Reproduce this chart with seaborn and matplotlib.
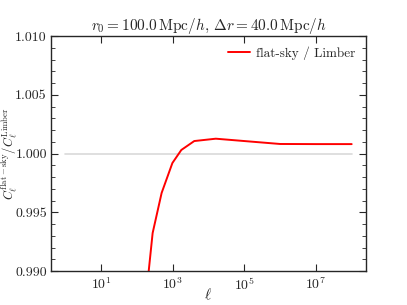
import matplotlib
matplotlib.use("Agg")
import matplotlib.pyplot as plt
import seaborn as sns
import numpy as np
import pandas as pd
from matplotlib.ticker import FixedLocator, MultipleLocator, NullLocator, FormatStrFormatter

ell = [1, 2, 5, 10, 20, 50, 90, 155, 275, 490, 980, 1740, 4000, 16000,
       1e5, 1e6, 1e7, 1e8]
ratio = [0.50, 0.70, 0.85, 0.91, 0.95, 0.972, 0.981, 0.9859, 0.99323, 0.99664,
         0.99919, 1.0003, 1.00106, 1.00126, 1.00106, 1.00081, 1.0008, 1.0008]
ref_ell = [1, 1e8]
ref_val = [1.0, 1.0]
xticks = [1e1, 1e3, 1e5, 1e7]

title = r"$r_0 = 100.0\,\mathrm{Mpc}/h$, $\Delta r = 40.0\,\mathrm{Mpc}/h$"
xlabel = r"$\ell$"
ylabel = r"$C_\ell^{\rm flat-sky}/C_\ell^{\rm Limber}$"
legend_label = "flat-sky / Limber"

sns.set_style("ticks")
plt.rcParams["font.family"] = ["cmr10", "DejaVu Serif"]
plt.rcParams["mathtext.fontset"] = "cm"
plt.rcParams["axes.formatter.use_mathtext"] = True

fig = plt.figure(figsize=(4.07, 3.05), dpi=100)
ax = fig.add_axes([51/407, 34/305, (366-51)/407, (271-36)/305])

df = pd.DataFrame({"ell": ell, "ratio": ratio})
ax.plot(ref_ell, ref_val, color="#d9d9d9", lw=1.2, zorder=1)
sns.lineplot(data=df, x="ell", y="ratio", ax=ax, color="red", lw=1.4,
             label=legend_label, zorder=2)
ax.set_xscale("log")
ax.set_xlim(10**-0.4, 10**8.4)
ax.set_ylim(0.990, 1.010)
ax.xaxis.set_major_locator(FixedLocator(xticks))
ax.xaxis.set_minor_locator(NullLocator())
ax.yaxis.set_major_locator(MultipleLocator(0.005))
ax.yaxis.set_minor_locator(MultipleLocator(0.001))
ax.yaxis.set_major_formatter(FormatStrFormatter("%.3f"))
ax.tick_params(which="both", direction="in", top=True, right=True, labelsize=10)
ax.tick_params(which="major", length=5)
ax.tick_params(which="minor", length=3)
ax.tick_params(axis="x", pad=4)
ax.tick_params(axis="y", pad=3)
for s in ax.spines.values():
    s.set_linewidth(1.0)
ax.set_title(title, fontsize=11, pad=4)
ax.set_xlabel(xlabel, fontsize=11)
ax.set_ylabel(ylabel, fontsize=9)
ax.xaxis.set_label_coords((208-51)/315, -(295-271)/235)
ax.yaxis.set_label_coords(-(51-9)/315, 0.5)
ax.xaxis.label.set_va("center")
ax.yaxis.label.set_va("center")
leg = ax.legend(loc="upper right", frameon=False, fontsize=9.5, handlelength=1.6,
                handletextpad=0.5, borderaxespad=0.4)
fig.savefig("out.png", dpi=100)
